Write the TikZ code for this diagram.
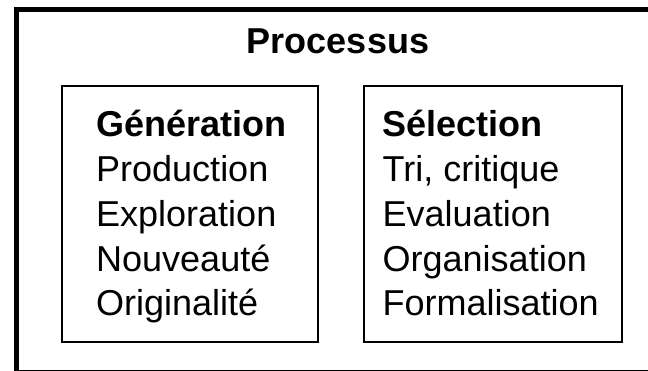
\documentclass[tikz,border=0pt]{standalone}
\usepackage{fontspec}
\setmainfont{Liberation Sans}
\begin{document}
\begin{tikzpicture}[x=1pt,y=-1pt,
  outerframe/.style={line width=5pt},
  panel/.style={draw,line width=2pt,rectangle,inner sep=0pt,outer sep=0pt},
  headtxt/.style={inner sep=0pt,anchor=base,font=\fontsize{36}{43}\selectfont\bfseries},
  titletxt/.style={inner sep=0pt,anchor=base west,font=\fontsize{36}{43}\selectfont\bfseries},
  itemtxt/.style={inner sep=0pt,anchor=base west,font=\fontsize{36}{43}\selectfont}]
\useasboundingbox (0,0) rectangle (648,371);
\clip (0,0) rectangle (648,371);
\draw[outerframe] (16.5,9.5) rectangle (668,372.5);
\node[headtxt] (proc) at (338,54) {Processus};
\node[panel,minimum width=256.3pt,minimum height=256pt] (gen) at (190.15,214) {};
\node[panel,minimum width=257.4pt,minimum height=256pt] (sel) at (493,214) {};
\node[titletxt] (g0) at (96,137) {Génération};
\node[itemtxt] (g1) at (96,182) {Production};
\node[itemtxt] (g2) at (96,227) {Exploration};
\node[itemtxt] (g3) at (96,271.5) {Nouveauté};
\node[itemtxt] (g4) at (96,316) {Originalité};
\node[titletxt] (s0) at (382.5,137) {Sélection};
\node[itemtxt] (s1) at (382.5,182) {Tri, critique};
\node[itemtxt] (s2) at (382.5,227) {Evaluation};
\node[itemtxt] (s3) at (382.5,271.5) {Organisation};
\node[itemtxt] (s4) at (382.5,316) {Formalisation};
\end{tikzpicture}
\end{document}
